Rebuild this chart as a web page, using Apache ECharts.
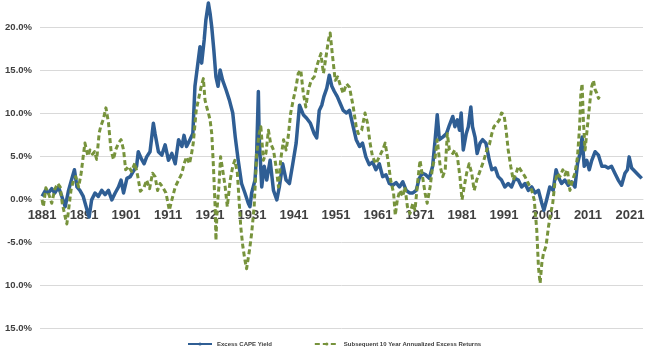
<!DOCTYPE html>
<html>
<head>
<meta charset="utf-8">
<script src="https://cdn.jsdelivr.net/npm/echarts@6/dist/echarts.min.js"></script>
<style>
  html, body { margin: 0; padding: 0; background: #ffffff; }
  #chart { width: 655px; height: 358px; }
</style>
</head>
<body>
<div id="chart"></div>
<script>
// ---- Data (year, percent) ----
const seriesNames = ['Excess CAPE Yield', 'Subsequent 10 Year Annualized Excess Returns'];

const excessCapeYield = [
  [1881.0,0.3],[1881.8,1.0],[1882.5,0.7],[1883.3,1.2],[1884.0,0.7],[1884.9,1.4],[1885.7,0.3],[1886.5,-0.9],
  [1887.3,1.0],[1888.1,2.4],[1888.7,3.4],[1889.3,1.4],[1890.0,1.0],[1890.8,0.3],[1891.6,-1.1],[1892.2,-2.1],
  [1892.8,-0.1],[1893.6,0.7],[1894.4,0.3],[1895.2,1.0],[1896.0,0.5],[1896.8,1.0],[1897.6,-0.1],[1898.4,0.7],
  [1899.2,1.4],[1899.8,2.2],[1900.4,0.7],[1901.2,2.4],[1902.0,2.6],[1902.7,3.2],[1903.5,3.8],[1903.9,5.5],
  [1904.7,4.6],[1905.3,4.1],[1905.9,4.9],[1906.7,5.5],[1907.5,8.8],[1907.9,7.6],[1908.7,5.5],[1909.5,5.1],
  [1910.3,6.3],[1911.1,4.5],[1911.9,5.3],[1912.7,4.1],[1913.5,6.9],[1914.3,6.1],[1914.8,7.4],[1915.4,6.1],
  [1916.2,6.9],[1916.9,7.6],[1917.4,13.1],[1918.0,15.4],[1918.6,17.7],[1919.0,15.8],[1919.6,18.5],[1920.0,20.8],
  [1920.6,22.8],[1921.0,21.6],[1921.4,20.0],[1921.9,17.3],[1922.4,14.2],[1922.9,13.1],[1923.4,15.0],[1924.0,13.8],
  [1924.8,12.7],[1925.6,11.5],[1926.4,10.0],[1927.0,7.2],[1927.7,4.5],[1928.5,1.8],[1929.3,0.7],[1930.1,-0.5],
  [1930.5,-0.9],[1930.9,0.7],[1931.7,2.2],[1932.1,5.3],[1932.5,12.5],[1932.7,7.2],[1933.3,1.4],[1933.9,3.8],
  [1934.5,2.2],[1935.3,4.5],[1936.1,1.0],[1936.9,-0.1],[1937.5,1.4],[1938.3,4.1],[1939.1,2.2],[1939.9,1.8],
  [1940.7,4.1],[1941.5,6.5],[1942.3,10.9],[1943.2,9.8],[1944.0,9.4],[1944.9,8.8],[1945.8,7.6],[1946.4,7.1],
  [1947.0,10.3],[1947.6,10.9],[1948.1,11.9],[1948.8,12.9],[1949.4,14.4],[1950.0,13.1],[1950.6,12.5],[1951.3,11.9],
  [1952.0,11.1],[1952.7,10.3],[1953.5,10.0],[1954.2,10.3],[1954.9,8.8],[1955.8,6.9],[1956.6,6.1],[1957.3,6.5],
  [1958.1,4.9],[1958.9,4.0],[1959.7,4.3],[1960.5,3.4],[1961.3,4.1],[1962.1,2.6],[1962.9,2.8],[1963.7,1.8],
  [1964.5,1.6],[1965.3,1.9],[1966.1,1.4],[1966.9,2.0],[1967.7,1.0],[1968.5,0.7],[1969.3,0.7],[1970.1,1.0],
  [1970.8,2.4],[1971.6,3.0],[1972.4,2.8],[1973.2,2.4],[1974.0,3.8],[1974.6,6.9],[1975.1,9.8],[1975.6,6.9],
  [1976.4,7.2],[1977.3,7.6],[1978.0,8.6],[1978.8,9.6],[1979.3,8.4],[1979.9,9.2],[1980.4,8.0],[1980.8,10.0],
  [1981.3,5.7],[1982.0,7.6],[1982.5,8.4],[1983.1,10.7],[1983.5,8.4],[1984.1,7.2],[1984.6,5.3],[1985.3,6.5],
  [1985.9,6.9],[1986.7,6.5],[1987.5,4.5],[1988.1,3.4],[1988.9,3.6],[1989.6,2.6],[1990.4,2.2],[1991.2,1.4],
  [1992.0,1.8],[1992.8,1.4],[1993.6,2.4],[1994.4,2.2],[1995.2,1.4],[1996.0,1.8],[1996.8,1.0],[1997.6,1.4],
  [1998.4,0.7],[1999.2,1.0],[2000.0,-0.5],[2000.5,-1.3],[2001.2,0.0],[2001.9,1.4],[2002.7,1.0],[2003.4,3.4],
  [2003.9,2.6],[2004.7,1.8],[2005.5,2.2],[2006.3,1.6],[2007.1,2.0],[2007.9,1.4],[2008.5,4.1],[2009.1,5.3],
  [2009.6,7.2],[2010.1,3.8],[2010.7,4.5],[2011.3,3.4],[2011.9,4.5],[2012.7,5.5],[2013.5,5.1],[2014.3,3.8],
  [2015.1,3.8],[2015.8,3.6],[2016.6,3.8],[2017.4,3.0],[2018.2,2.2],[2019.0,1.6],[2019.8,3.0],[2020.4,3.4],
  [2020.8,4.9],[2021.4,3.6],[2022.2,3.2],[2023.0,2.8],[2023.8,2.4]
];

const subsequentReturns = [
  [1881.0,-0.1],[1881.3,-0.9],[1881.9,1.3],[1882.5,0.7],[1883.3,-0.5],[1884.0,1.1],[1884.7,1.8],[1885.3,1.4],
  [1885.8,-0.5],[1886.5,-2.1],[1886.9,-2.9],[1887.3,-1.3],[1887.9,1.1],[1888.5,2.2],[1889.0,2.6],[1889.7,1.4],
  [1890.3,3.0],[1890.8,5.0],[1891.2,6.5],[1891.9,5.0],[1892.4,5.7],[1893.0,5.2],[1893.5,5.5],[1894.0,4.6],
  [1894.6,7.7],[1895.0,8.5],[1895.6,9.3],[1896.2,10.6],[1896.8,8.9],[1897.4,5.7],[1898.0,4.6],[1898.5,5.7],
  [1899.2,6.5],[1899.8,6.9],[1900.4,5.7],[1900.9,3.4],[1901.6,3.8],[1902.3,3.2],[1903.1,4.2],[1903.8,2.6],
  [1904.4,0.9],[1905.3,1.4],[1905.9,2.2],[1906.6,1.2],[1907.3,3.0],[1907.9,2.6],[1908.5,1.0],[1909.1,1.8],
  [1909.7,1.4],[1910.5,0.7],[1911.3,-1.3],[1911.9,-0.1],[1912.7,1.4],[1913.5,2.2],[1914.3,3.0],[1914.8,4.1],
  [1915.4,4.9],[1916.1,4.1],[1916.6,5.3],[1917.0,6.5],[1917.7,10.3],[1918.2,11.5],[1918.9,13.1],[1919.4,14.0],
  [1919.8,11.5],[1920.2,10.7],[1920.6,10.0],[1921.0,9.2],[1921.4,7.6],[1921.8,3.8],[1922.2,-0.9],[1922.4,-4.8],
  [1922.7,-0.9],[1923.1,1.4],[1923.5,4.9],[1924.0,3.4],[1924.6,1.4],[1925.1,-0.9],[1925.8,2.2],[1926.4,3.8],
  [1926.9,4.5],[1927.5,3.0],[1927.9,-0.1],[1928.3,-3.2],[1928.8,-5.5],[1929.3,-7.1],[1929.7,-8.1],[1930.4,-5.9],
  [1930.9,-4.0],[1931.5,-0.9],[1932.1,5.3],[1932.7,7.6],[1933.1,8.4],[1933.7,4.5],[1934.3,5.3],[1934.9,8.0],
  [1935.4,6.5],[1936.1,5.7],[1936.7,3.8],[1937.3,1.4],[1937.8,4.5],[1938.5,6.9],[1939.1,5.7],[1939.6,7.2],
  [1940.2,10.0],[1940.8,11.5],[1941.5,13.1],[1942.0,14.6],[1942.6,15.0],[1943.2,12.3],[1943.8,10.7],[1944.4,12.7],
  [1945.1,13.8],[1945.8,14.2],[1946.4,15.4],[1946.9,16.2],[1947.4,16.9],[1948.0,14.6],[1948.6,16.5],[1949.2,18.5],
  [1949.6,19.3],[1950.1,16.9],[1950.8,13.8],[1951.4,14.2],[1951.9,13.4],[1952.7,12.3],[1953.5,13.4],[1954.2,13.0],
  [1955.1,10.7],[1955.8,8.4],[1956.3,7.6],[1957.1,8.0],[1957.9,10.0],[1958.5,8.8],[1959.1,6.5],[1959.7,4.9],
  [1960.5,4.1],[1961.3,4.9],[1962.1,5.7],[1962.7,6.5],[1963.5,4.1],[1964.0,2.2],[1964.7,0.7],[1965.1,-1.9],
  [1965.6,-0.1],[1966.2,1.0],[1966.9,0.3],[1967.4,1.4],[1968.0,-0.9],[1968.6,-1.7],[1969.3,-0.5],[1969.8,-1.3],
  [1970.4,1.8],[1971.0,4.5],[1971.6,2.6],[1972.2,0.7],[1972.7,-0.5],[1973.4,1.4],[1974.0,3.8],[1974.6,4.9],
  [1975.1,6.9],[1975.8,3.8],[1976.4,2.6],[1977.0,3.4],[1977.5,7.6],[1978.0,5.7],[1978.8,5.3],[1979.3,5.7],
  [1979.9,4.9],[1980.5,2.6],[1981.0,-0.1],[1981.5,1.4],[1982.1,3.0],[1982.7,4.1],[1983.3,3.0],[1983.9,1.0],
  [1984.5,2.2],[1985.1,3.0],[1985.7,3.8],[1986.2,4.5],[1986.9,5.7],[1987.5,6.3],[1988.1,7.6],[1988.6,8.4],
  [1989.3,8.8],[1989.9,9.2],[1990.4,10.0],[1991.0,9.8],[1991.5,8.0],[1992.0,5.7],[1992.6,3.8],[1993.2,2.2],
  [1993.9,3.0],[1994.4,3.8],[1995.2,3.2],[1996.0,2.6],[1996.8,1.8],[1997.6,1.0],[1998.2,-0.1],[1998.8,-3.6],
  [1999.2,-7.9],[1999.6,-9.8],[2000.0,-7.5],[2000.4,-6.3],[2001.0,-5.5],[2001.6,-3.2],[2002.1,-1.7],[2002.6,-0.5],
  [2003.1,1.8],[2003.7,3.0],[2004.3,2.6],[2005.0,3.4],[2005.5,2.8],[2006.1,3.4],[2006.7,1.0],[2007.3,2.2],
  [2007.9,3.0],[2008.5,4.9],[2009.0,8.4],[2009.3,12.3],[2009.6,13.4],[2009.9,9.2],[2010.3,5.7],[2010.7,7.6],
  [2011.1,9.6],[2011.5,11.5],[2011.9,13.1],[2012.3,13.8],[2012.7,12.7],[2013.1,12.3],[2013.5,11.7],[2013.7,11.9]
];

// ---- Tick labels ----
const xTickYears = [1881, 1891, 1901, 1911, 1921, 1931, 1941, 1951, 1961, 1971, 1981, 1991, 2001, 2011, 2021];
const yTickValues = [-15, -10, -5, 0, 5, 10, 15, 20];
const yTickLabels = ['15.0%', '10.0%', '-5.0%', '0.0%', '5.0%', '10.0%', '15.0%', '20.0%'];

const chart = echarts.init(document.getElementById('chart'), null, { renderer: 'canvas' });
const labelColor = '#404040';
const gridColor = '#d9d9d9';
const fontFam = '"Liberation Sans", Arial, sans-serif';

const yMin = -15, yMax = 23.14;
const gridTop = 0, gridBottom = 30;
const plotH = 358 - gridTop - gridBottom;
// distance of the zero line above the bottom of the plot, through the axis scale
const zeroOffset = plotH * (0 - yMin) / (yMax - yMin);

chart.setOption({
  animation: false,
  backgroundColor: '#ffffff',
  grid: { left: 40, right: 12, top: gridTop, bottom: gridBottom, containLabel: false },
  legend: {
    bottom: 6,
    left: 182,
    itemWidth: 24,
    itemHeight: 4,
    itemGap: 42,
    textStyle: { fontSize: 6, color: labelColor, fontWeight: 'bold', fontFamily: fontFam },
    data: seriesNames
  },
  xAxis: {
    type: 'value',
    min: 1880.5,
    max: 2024.1,
    offset: -zeroOffset,
    axisLine: { show: true, onZero: false, lineStyle: { color: gridColor, width: 1 } },
    axisTick: { show: false },
    splitLine: { show: false },
    axisLabel: {
      customValues: xTickYears,
      margin: 10,
      fontSize: 13,
      fontWeight: 'bold',
      color: labelColor,
      fontFamily: fontFam,
      formatter: v => String(v)
    }
  },
  yAxis: {
    type: 'value',
    min: yMin,
    max: yMax,
    interval: 5,
    axisLine: { show: false },
    axisTick: { show: false },
    splitLine: { show: true, showMaxLine: false, lineStyle: { color: gridColor, width: 1 } },
    axisLabel: {
      margin: 8,
      fontSize: 9.5,
      fontWeight: 'bold',
      color: labelColor,
      fontFamily: fontFam,
      showMaxLabel: false,
      formatter: v => {
        const i = yTickValues.indexOf(Math.round(v * 100) / 100);
        return i >= 0 ? yTickLabels[i] : '';
      }
    }
  },
  series: [
    {
      name: seriesNames[0],
      type: 'line',
      data: excessCapeYield,
      symbol: 'none',
      showSymbol: false,
      lineStyle: { color: '#2F5E94', width: 3.5, join: 'round' },
      itemStyle: { color: '#2F5E94' },
      z: 2
    },
    {
      name: seriesNames[1],
      type: 'line',
      data: subsequentReturns,
      symbol: 'none',
      showSymbol: false,
      lineStyle: { color: '#77933C', width: 3, type: [5, 3], join: 'round' },
      itemStyle: { color: '#77933C' },
      z: 3
    }
  ]
});
</script>
</body>
</html>
